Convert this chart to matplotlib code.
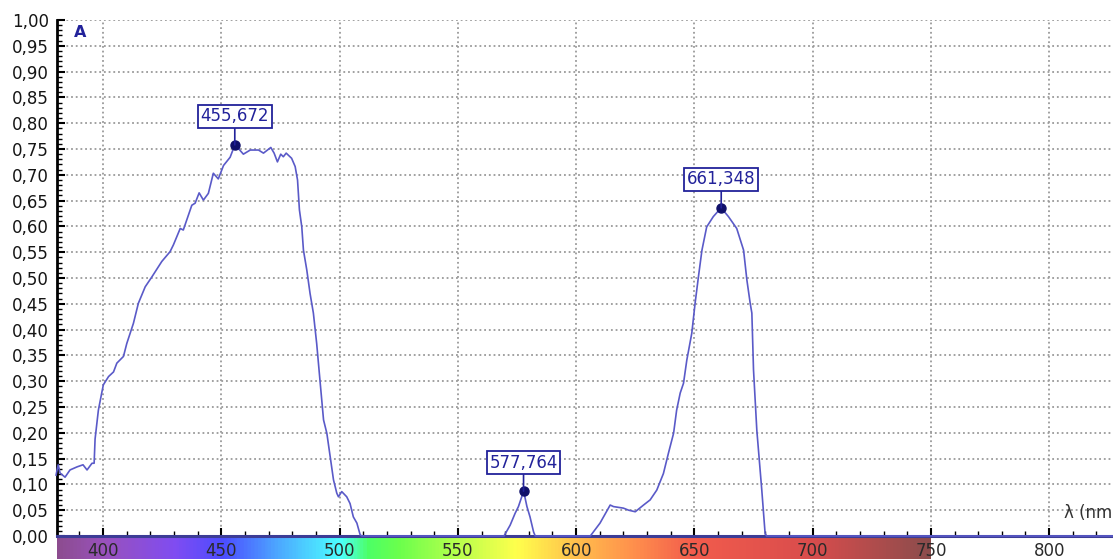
import numpy as np
import matplotlib
matplotlib.use("Agg")
import matplotlib.pyplot as plt
from matplotlib.ticker import MultipleLocator, FuncFormatter
from matplotlib.colors import LinearSegmentedColormap

# ---- data ----
wavelength = [380.1, 381.0, 381.8, 383.9, 386.0, 389.0, 391.5, 393.2, 395.3, 396.2,
              396.6, 398.0, 399.4, 400.1, 402.3, 404.4, 405.8, 408.6, 410.0, 412.8,
              414.9, 417.8, 420.6, 424.8, 428.3, 429.7, 432.6, 433.9, 437.5, 438.9,
              440.6, 442.4, 444.5, 446.6, 448.7, 450.9, 453.7, 455.7, 457.2, 459.3,
              462.2, 465.7, 467.8, 470.9, 472.3, 473.7, 475.1, 476.2, 477.4, 479.7,
              481.2, 482.2, 483.0, 484.0, 484.7, 486.1, 487.5, 488.9, 490.3, 491.8,
              493.2, 494.6, 496.0, 497.4, 498.8, 499.5, 500.9, 503.0, 504.4, 505.8,
              507.3, 508.7, 509.5, 569.5, 572.1, 574.2, 575.6, 577.0, 577.8, 579.2,
              580.5, 582.0, 582.7, 606.0, 610.1, 614.4, 615.8, 620.0, 622.2, 625.0,
              628.5, 631.3, 634.1, 636.9, 639.0, 641.2, 642.5, 644.0, 645.4, 646.8,
              648.9, 650.3, 651.7, 653.2, 655.2, 658.0, 661.3, 664.4, 667.9, 670.8,
              672.2, 673.6, 674.3, 675.0, 676.4, 678.5, 679.9, 680.5, 827.0]
absorbance = [0.118, 0.138, 0.122, 0.114, 0.128, 0.134, 0.138, 0.128, 0.141, 0.141,
              0.188, 0.244, 0.277, 0.293, 0.309, 0.318, 0.335, 0.348, 0.373, 0.412,
              0.451, 0.483, 0.502, 0.532, 0.551, 0.564, 0.596, 0.593, 0.641, 0.645,
              0.665, 0.651, 0.664, 0.703, 0.692, 0.718, 0.734, 0.758, 0.751, 0.740,
              0.748, 0.748, 0.742, 0.753, 0.742, 0.725, 0.740, 0.735, 0.742, 0.732,
              0.716, 0.690, 0.632, 0.599, 0.554, 0.516, 0.470, 0.432, 0.373, 0.296,
              0.225, 0.199, 0.154, 0.109, 0.083, 0.076, 0.086, 0.076, 0.063, 0.037,
              0.025, 0.002, 0.0, 0.0, 0.021, 0.044, 0.057, 0.076, 0.087, 0.057,
              0.037, 0.008, 0.0, 0.0, 0.025, 0.060, 0.057, 0.054, 0.050, 0.047,
              0.060, 0.070, 0.089, 0.121, 0.160, 0.199, 0.244, 0.277, 0.296, 0.341,
              0.393, 0.451, 0.502, 0.554, 0.599, 0.619, 0.636, 0.619, 0.596, 0.554,
              0.496, 0.451, 0.432, 0.322, 0.205, 0.089, 0.005, 0.0, 0.0]

peak_wavelengths = [455.672, 577.764, 661.348]
peak_absorbance = [0.758, 0.087, 0.636]

y_label = "A"
x_label = "λ (nm"   # shown clipped at the right edge in the reference

# ---- styling ----
line_c = "#5a5ac8"
navy = "#22229a"
dark_navy = "#10106a"

W, H = 1113, 559
fig = plt.figure(figsize=(W / 100, H / 100), dpi=100)
fig.patch.set_facecolor("white")

x0, x1 = 380.5, 827.0

# spectrum strip
sax = fig.add_axes([57 / W, 0, 1 - 57 / W, 21 / H], zorder=0)
stops = [(380, (0.55, 0.30, 0.56)), (400, (0.60, 0.32, 0.74)), (430, (0.50, 0.30, 0.95)),
         (450, (0.30, 0.30, 1.00)), (475, (0.30, 0.68, 1.00)), (500, (0.30, 1.00, 1.00)),
         (512, (0.30, 1.00, 0.40)), (525, (0.42, 1.00, 0.30)), (550, (0.72, 1.00, 0.30)),
         (575, (1.00, 1.00, 0.30)), (600, (1.00, 0.75, 0.30)), (625, (1.00, 0.56, 0.30)),
         (650, (0.95, 0.36, 0.30)), (700, (0.85, 0.30, 0.30)), (750, (0.55, 0.30, 0.30))]
pos = [(s[0] - 380) / 370 for s in stops]
cmap = LinearSegmentedColormap.from_list("spec", list(zip(pos, [s[1] for s in stops])))
grad = np.linspace(0, 1, 740).reshape(1, -1)
sax.imshow(grad, aspect="auto", cmap=cmap, extent=[380, 750, 0, 1])
sax.set_xlim(x0, x1)
sax.set_ylim(0, 1)
sax.axis("off")

# main axes
ax = fig.add_axes([57 / W, 23 / H, 1 - 57 / W, 516 / H], zorder=2)
ax.patch.set_alpha(0)
ax.plot(wavelength, absorbance, color=line_c, lw=1.2, zorder=3, clip_on=False)
ax.set_xlim(x0, x1)
ax.set_ylim(0, 1.0)

ax.xaxis.set_major_locator(MultipleLocator(50))
ax.xaxis.set_minor_locator(MultipleLocator(10))
ax.yaxis.set_major_locator(MultipleLocator(0.05))
ax.yaxis.set_minor_locator(MultipleLocator(0.01))
ax.yaxis.set_major_formatter(FuncFormatter(lambda v, p: f"{v:.2f}".replace(".", ",")))
ax.xaxis.set_major_formatter(FuncFormatter(lambda v, p: f"{v:.0f}"))

ax.grid(True, which="major", color="#9a9a9a", linestyle=(0, (1, 1.6)), lw=1.3, zorder=1)

for s in ["top", "right"]:
    ax.spines[s].set_visible(False)
ax.spines["left"].set_linewidth(2.0)
ax.spines["left"].set_color("black")
ax.spines["bottom"].set_linewidth(2.2)
ax.spines["bottom"].set_color("#3c3c96")

ax.tick_params(axis="both", which="major", direction="in", length=6, width=1.5, color="black")
ax.tick_params(axis="both", which="minor", direction="in", length=3.8, width=1.0, color="black")
ax.tick_params(axis="y", which="major", labelsize=12, labelcolor="#151515", pad=6)
ax.tick_params(axis="x", which="major", labelsize=12, labelcolor="#2a2a2a", pad=4)

ax.text(0.022, 0.976, y_label, transform=ax.transAxes, color=navy, fontsize=11.5,
        fontweight="bold", ha="center", va="center")
fig.text(1112 / W, (559 - 518) / H, x_label, color="#333333", fontsize=12,
         ha="right", va="baseline")

# peak markers and labels
for px, py in zip(peak_wavelengths, peak_absorbance):
    ax.plot([px], [py], "o", color=dark_navy, ms=6.5, zorder=5)
    ax.annotate(f"{px:.3f}".replace(".", ","), xy=(px, py), xytext=(0, 20.5),
                textcoords="offset points", ha="center", va="center",
                fontsize=12, color=navy, zorder=6,
                bbox=dict(boxstyle="square,pad=0.15", fc="white", ec=navy, lw=1.3),
                arrowprops=dict(arrowstyle="-", color=navy, lw=1.2, shrinkA=0, shrinkB=0))

fig.savefig("out.png", dpi=100)
